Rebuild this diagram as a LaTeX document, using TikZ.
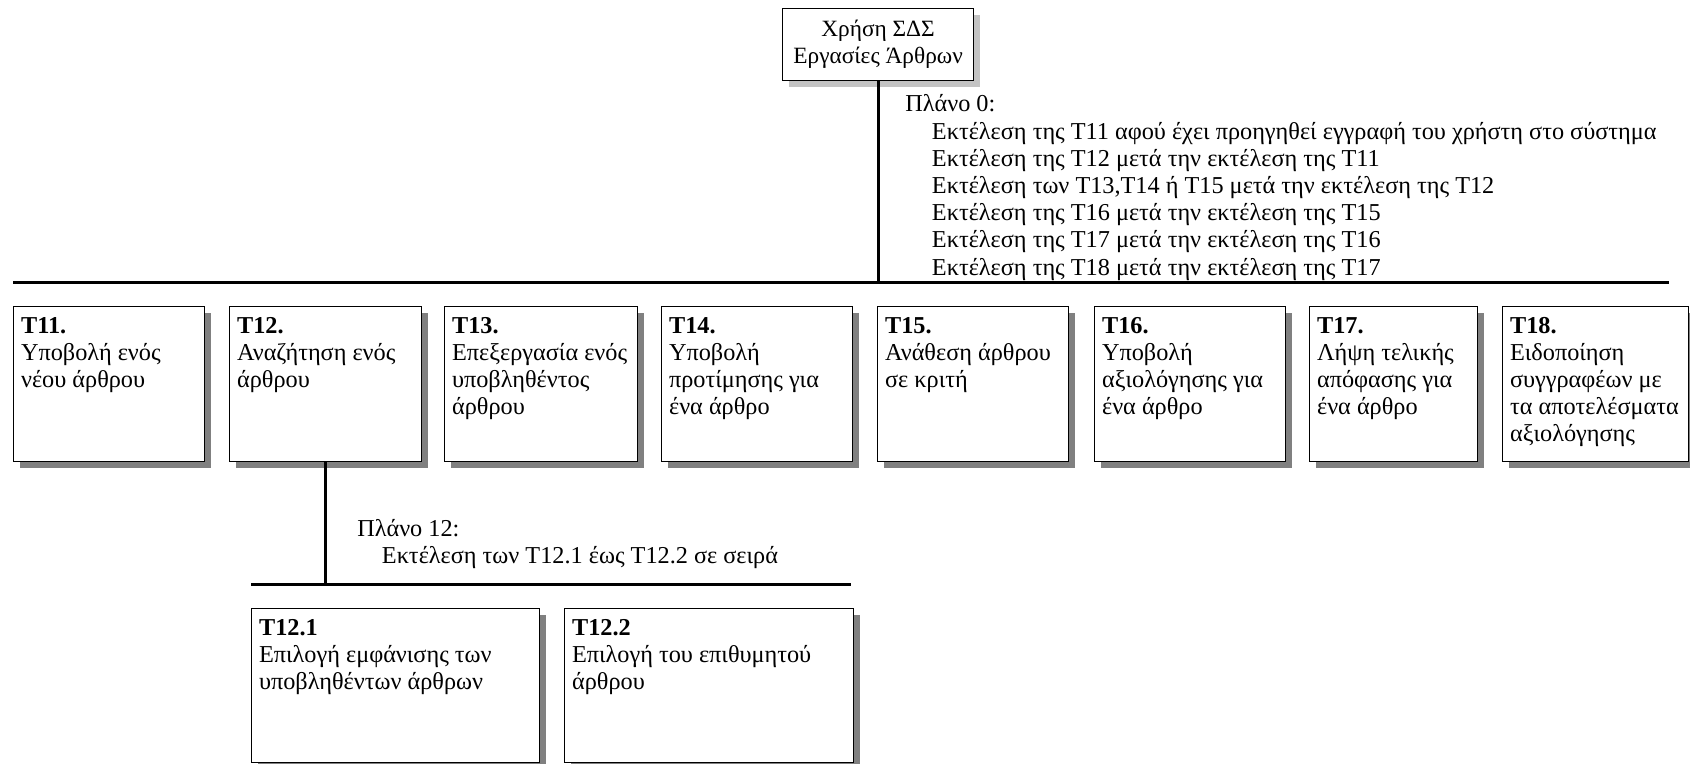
\documentclass[tikz,border=0pt]{standalone}
\usepackage{fontspec}
\setmainfont{Liberation Serif}
\usetikzlibrary{shadows}
\definecolor{shadowgray}{RGB}{128,128,128}
\definecolor{lightshadow}{RGB}{195,195,195}
\newcommand{\txt}{\fontsize{18.2pt}{20.4pt}\selectfont}
\newcommand{\toptxt}{\fontsize{17.5pt}{20.4pt}\selectfont}
\newcommand{\boxcontent}[3]{\hspace*{5.6pt}\parbox[c][#1][t]{#2}{\raggedright\strut #3}}
\begin{document}
\begin{tikzpicture}[x=0.75pt,y=-0.75pt,
  taskbox/.style={draw, line width=0.9pt, fill=white, anchor=north west,
    inner sep=0pt, minimum height=116.25pt, font=\txt,
    general shadow={fill=shadowgray, shadow xshift=4.5pt, shadow yshift=-4.5pt}},
  subbox/.style={taskbox, minimum height=115.5pt},
  topbox/.style={draw, line width=0.9pt, fill=white, anchor=north west,
    inner sep=0pt, align=center, font=\toptxt,
    general shadow={fill=lightshadow, shadow xshift=5pt, shadow yshift=-5pt}},
  bar/.style={line width=2.25pt},
  plan/.style={anchor=base west, inner sep=0pt, font=\txt}]
\useasboundingbox (0,0) rectangle (1690,763);

% top node
\node[topbox, minimum width=143.25pt, minimum height=54pt] (top) at (782,8)
  {Χρήση ΣΔΣ\\Εργασίες Άρθρων};

% plan 0
\node[plan] (plan0) at (905,112) {\parbox[t]{700pt}{\raggedright
  Πλάνο 0:\\
  \hspace*{20pt}Εκτέλεση της T11 αφού έχει προηγηθεί εγγραφή του χρήστη στο σύστημα\\
  \hspace*{20pt}Εκτέλεση της T12 μετά την εκτέλεση της T11\\
  \hspace*{20pt}Εκτέλεση των T13,T14 ή T15 μετά την εκτέλεση της T12\\
  \hspace*{20pt}Εκτέλεση της T16 μετά την εκτέλεση της T15\\
  \hspace*{20pt}Εκτέλεση της T17 μετά την εκτέλεση της T16\\
  \hspace*{20pt}Εκτέλεση της T18 μετά την εκτέλεση της T17}};

% main bar
\coordinate (hl) at (13,282);
\coordinate (hr) at (1669,282);
\draw[bar] (hl) -- (hr);
\draw[bar] (top.south) -- (top.south |- hl);

% first level tasks
\node[taskbox, minimum width=143.25pt] (t11) at (13,306)
  {\boxcontent{105pt}{137.65pt}{\textbf{T11.}\\Υποβολή ενός\\νέου άρθρου}};
\node[taskbox, minimum width=144pt] (t12) at (229,306)
  {\boxcontent{105pt}{138.4pt}{\textbf{T12.}\\Αναζήτηση ενός\\άρθρου}};
\node[taskbox, minimum width=144.75pt] (t13) at (444,306)
  {\boxcontent{105pt}{139.15pt}{\textbf{T13.}\\Επεξεργασία ενός\\υποβληθέντος\\άρθρου}};
\node[taskbox, minimum width=143.25pt] (t14) at (661,306)
  {\boxcontent{105pt}{137.65pt}{\textbf{T14.}\\Υποβολή\\προτίμησης για\\ένα άρθρο}};
\node[taskbox, minimum width=143.25pt] (t15) at (877,306)
  {\boxcontent{105pt}{137.65pt}{\textbf{T15.}\\Ανάθεση άρθρου\\σε κριτή}};
\node[taskbox, minimum width=143.25pt] (t16) at (1094,306)
  {\boxcontent{105pt}{137.65pt}{\textbf{T16.}\\Υποβολή\\αξιολόγησης για\\ένα άρθρο}};
\node[taskbox, minimum width=126pt] (t17) at (1309,306)
  {\boxcontent{105pt}{120.4pt}{\textbf{T17.}\\Λήψη τελικής\\απόφασης για\\ένα άρθρο}};
\node[taskbox, minimum width=139.5pt] (t18) at (1502,306)
  {\boxcontent{105pt}{133.9pt}{\textbf{T18.}\\Ειδοποίηση\\συγγραφέων με\\τα αποτελέσματα\\αξιολόγησης}};

% plan 12
\node[plan] (plan12) at (357,536) {\parbox[t]{400pt}{\raggedright
  Πλάνο 12:\\
  \hspace*{18.5pt}Εκτέλεση των T12.1 έως T12.2 σε σειρά}};

\coordinate (gl) at (251,584);
\coordinate (gr) at (851,584);
\draw[bar] (gl) -- (gr);
\draw[bar] (t12.south) -- (t12.south |- gl);

% second level tasks
\node[subbox, minimum width=216pt] (t121) at (251,608)
  {\boxcontent{104.3pt}{210.4pt}{\textbf{T12.1}\\Επιλογή εμφάνισης των\\υποβληθέντων άρθρων}};
\node[subbox, minimum width=216.75pt] (t122) at (564,608)
  {\boxcontent{104.3pt}{211.15pt}{\textbf{T12.2}\\Επιλογή του επιθυμητού\\άρθρου}};
\end{tikzpicture}
\end{document}
